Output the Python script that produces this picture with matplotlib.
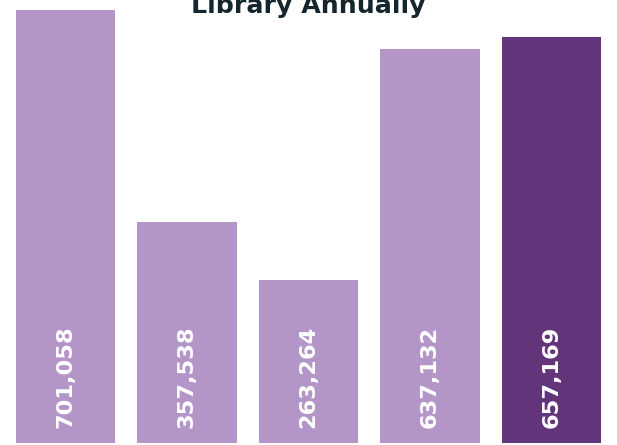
import matplotlib
matplotlib.use("Agg")
import matplotlib.pyplot as plt

# values per bar (left to right)
labels = ["701,058", "357,538", "263,264", "637,132", "657,169"]
values = [701058, 357538, 263264, 637132, 657169]
colors = ["#b395c7", "#b395c7", "#b395c7", "#b395c7", "#62347a"]
title = "Library Annually"

fig = plt.figure(figsize=(6.17, 4.45), dpi=100)
ax = fig.add_axes([0, 2 / 445, 1, 443 / 445])

xs = list(range(len(values)))
ax.bar(xs, values, width=0.815, color=colors)

for x, v, lab in zip(xs, values, labels):
    ax.text(x, 24000, lab, rotation=90, ha="center", va="bottom",
            color="white", fontsize=16.2, fontweight="bold", family="DejaVu Sans")

ax.set_xlim(-0.539, 4.539)
ax.set_ylim(0, 717200)
ax.axis("off")

# title is partly above the top edge, same as the source image
fig.text(0.5, 1 - 13 / 445, title, ha="center", va="baseline",
         fontsize=18.2, fontweight="bold", color="#15262e")

fig.savefig("out.png", dpi=100)
